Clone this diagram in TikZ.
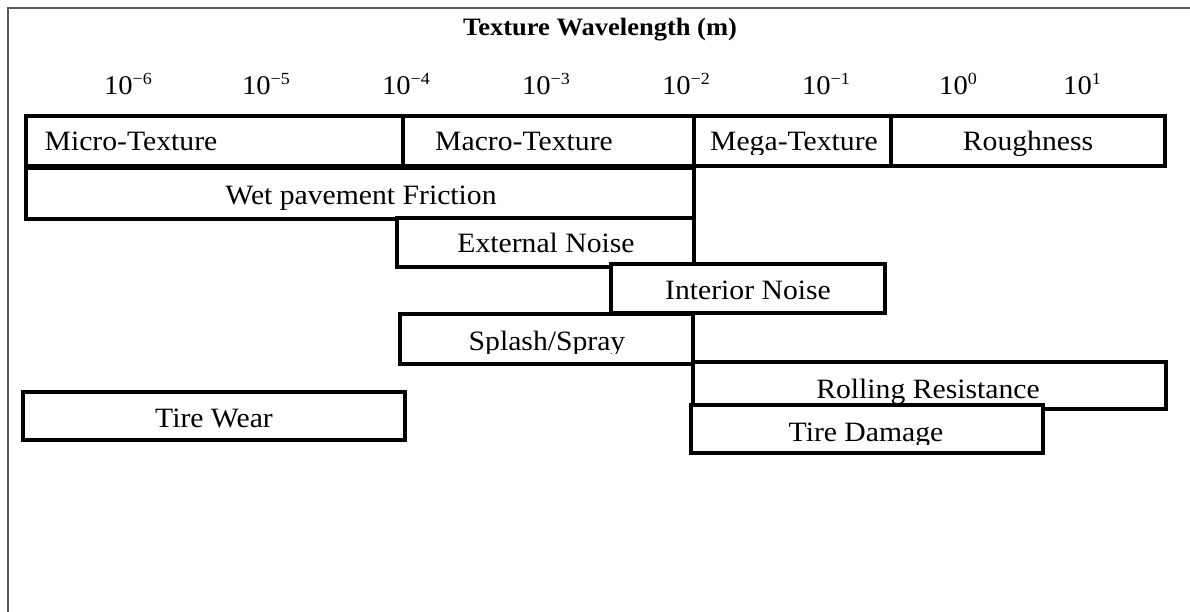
\documentclass[tikz,border=0pt]{standalone}
\usepackage{fontspec}
\setmainfont[FakeStretch=1.06]{Liberation Serif}
\begin{document}
\begin{tikzpicture}[x=1pt,y=-1pt,
  band/.style={draw=black, line width=3.2pt, fill=white, inner sep=0pt},
  lbl/.style={anchor=base, inner sep=0pt, font=\fontsize{28}{30}\selectfont},
  expo/.style={anchor=base, inner sep=0pt, font=\fontsize{27}{30}\selectfont},
  frameline/.style={draw=black!65, line width=1.4pt}]
\useasboundingbox (0,0) rectangle (1190,612);
% page frame (top and left edges)
\draw[frameline] (8,612) -- (8,8) -- (1190,8);

% title
\node[anchor=base, inner sep=0pt, font=\bfseries\fontsize{25}{28}\selectfont] (title) at (600,36) {Texture Wavelength (m)};

% decade labels
\newcommand{\dec}[1]{10\raisebox{10.5pt}{\fontsize{17}{17}\selectfont #1}}
\node[expo] (e6) at (128,95) {\dec{−6}};
\node[expo] (e5) at (266,95) {\dec{−5}};
\node[expo] (e4) at (406,95) {\dec{−4}};
\node[expo] (e3) at (546,95) {\dec{−3}};
\node[expo] (e2) at (686,95) {\dec{−2}};
\node[expo] (e1) at (826,95) {\dec{−1}};
\node[expo] (e0) at (958,95) {\dec{0}};
\node[expo] (ep1) at (1082,95) {\dec{1}};

% texture classes
\draw[band] (26,116) rectangle (403,166);
\draw[band] (403,116) rectangle (694,166);
\draw[band] (694,116) rectangle (891,166);
\draw[band] (891,116) rectangle (1165,166);
\node[lbl] (micro) at (131,151) {Micro-Texture};
\node[lbl] (macro) at (524,151) {Macro-Texture};
\begin{scope}
  \clip (694,116) rectangle (891,155);
  \node[lbl] (mega) at (794,151) {Mega-Texture};
\end{scope}
\begin{scope}
  \clip (891,116) rectangle (1165,157);
  \node[lbl] (rough) at (1028,151) {Roughness};
\end{scope}

% pavement effects
\draw[band] (26,168) rectangle (694,219);
\node[lbl] (wet) at (361,205) {Wet pavement Friction};

\draw[band] (397,218) rectangle (694,267);
\node[lbl] (ext) at (546,252) {External Noise};

\draw[band] (611,264) rectangle (885,313);
\node[lbl] (int) at (748,299) {Interior Noise};

\draw[band] (400,314) rectangle (693,364);
\begin{scope}
  \clip (400,314) rectangle (693,353);
  \node[lbl] (splash) at (547,350) {Splash/Spray};
\end{scope}

\draw[band] (693,362) rectangle (1166,409);
\node[lbl] (roll) at (928,398) {Rolling Resistance};

\draw[band] (691,405) rectangle (1043,453);
\begin{scope}
  \clip (691,405) rectangle (1043,444);
  \node[lbl] (dmg) at (866,441) {Tire Damage};
\end{scope}

\draw[band] (23,392) rectangle (405,440);
\node[lbl] (wear) at (214,427) {Tire Wear};
\end{tikzpicture}
\end{document}
